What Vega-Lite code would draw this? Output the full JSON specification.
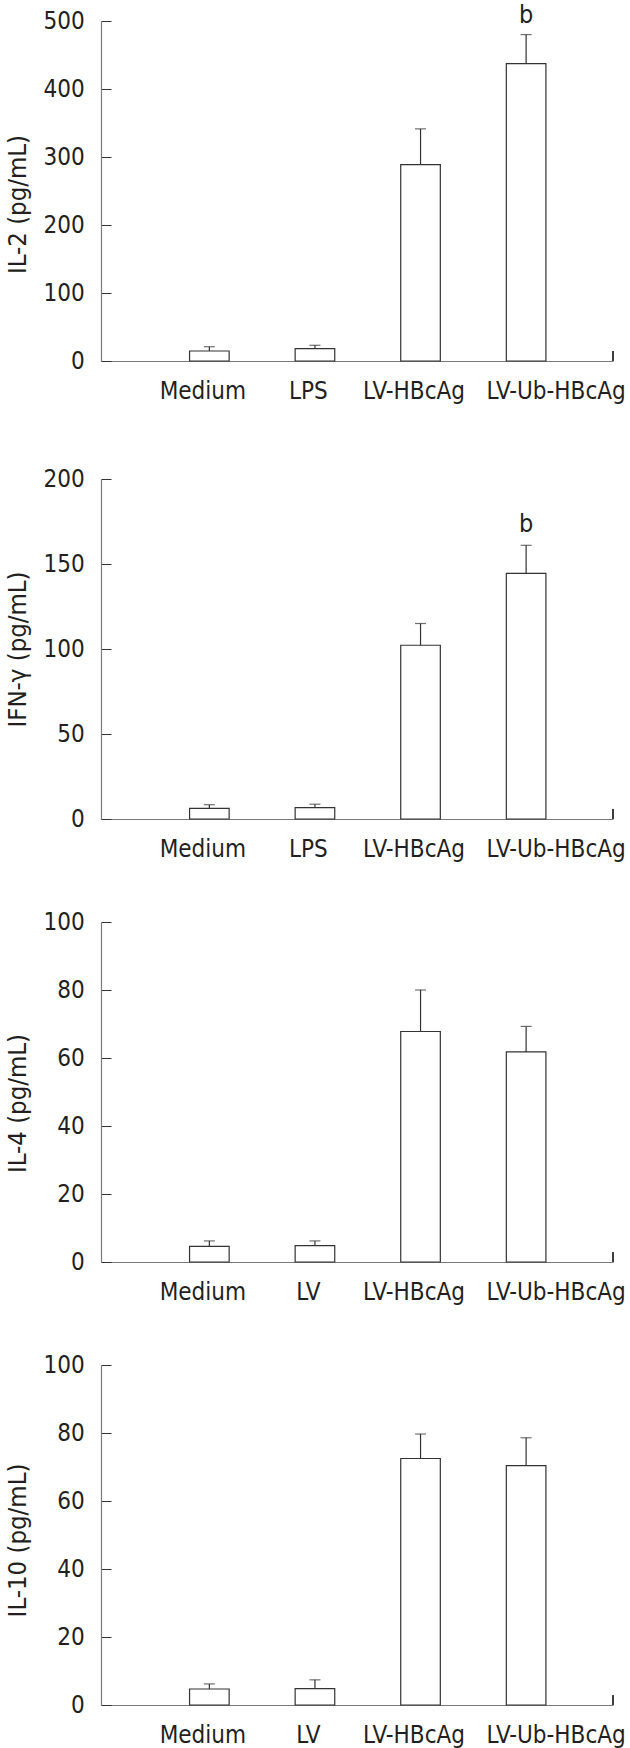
{
  "$schema": "https://vega.github.io/schema/vega-lite/v6.json",
  "background": "white",
  "padding": {"left": 5, "top": 2, "right": 0, "bottom": 0},
  "datasets": {
    "d": [
      {"panel": "IL-2", "group": "Medium", "mean": 14.7, "err": 21.0, "sig": null},
      {"panel": "IL-2", "group": "LPS", "mean": 18.1, "err": 23.1, "sig": null},
      {"panel": "IL-2", "group": "LV-HBcAg", "mean": 288.8, "err": 341.4, "sig": null},
      {"panel": "IL-2", "group": "LV-Ub-HBcAg", "mean": 437.2, "err": 480.0, "sig": "b"},
      {"panel": "IFN", "group": "Medium", "mean": 6.3, "err": 8.4, "sig": null},
      {"panel": "IFN", "group": "LPS", "mean": 6.7, "err": 8.7, "sig": null},
      {"panel": "IFN", "group": "LV-HBcAg", "mean": 102.2, "err": 115.0, "sig": null},
      {"panel": "IFN", "group": "LV-Ub-HBcAg", "mean": 144.5, "err": 161.0, "sig": "b"},
      {"panel": "IL-4", "group": "Medium", "mean": 4.6, "err": 6.2, "sig": null},
      {"panel": "IL-4", "group": "LV", "mean": 4.8, "err": 6.2, "sig": null},
      {"panel": "IL-4", "group": "LV-HBcAg", "mean": 67.8, "err": 80.0, "sig": null},
      {"panel": "IL-4", "group": "LV-Ub-HBcAg", "mean": 61.8, "err": 69.3, "sig": null},
      {"panel": "IL-10", "group": "Medium", "mean": 4.7, "err": 6.2, "sig": null},
      {"panel": "IL-10", "group": "LV", "mean": 4.8, "err": 7.4, "sig": null},
      {"panel": "IL-10", "group": "LV-HBcAg", "mean": 72.5, "err": 79.7, "sig": null},
      {"panel": "IL-10", "group": "LV-Ub-HBcAg", "mean": 70.4, "err": 78.6, "sig": null}
    ]
  },
  "config": {
    "view": {"stroke": null},
    "font": "DejaVu Sans Condensed",
    "concat": {"spacing": 48},
    "axis": {
      "grid": false,
      "labelFont": "DejaVu Sans Condensed",
      "labelFontSize": 24,
      "labelColor": "#231f20",
      "titleFont": "DejaVu Sans Condensed",
      "titleFontSize": 25.5,
      "titleFontWeight": "normal",
      "titleColor": "#231f20",
      "domainColor": "#7a7a7a",
      "domainWidth": 1.2,
      "tickColor": "#333333",
      "tickWidth": 1,
      "tickSize": -10,
      "zindex": 1
    },
    "axisX": {"labelAngle": 0, "labelPadding": 28.5, "labelBaseline": "top",
      "labelOffset": {"condition": {"test": "datum.value === 'LV-Ub-HBcAg'", "value": 30}, "value": -6.5}},
    "axisY": {"labelPadding": 26.7, "titlePadding": 12.5}
  },
  "vconcat": [
    {
      "width": 512, "height": 340,
      "data": {"name": "d"},
      "transform": [{"filter": "datum.panel === 'IL-2'"}],
      "resolve": {"scale": {"x": "independent"}},
      "layer": [
        {
          "encoding": {
            "x": {"field": "group", "type": "nominal", "sort": null, "title": null,
              "scale": {"domain": ["Medium", "LPS", "LV-HBcAg", "LV-Ub-HBcAg"], "paddingInner": 0.625, "paddingOuter": 0.737, "align": 0.569}}
          },
          "layer": [
            {"mark": {"type": "bar", "fill": "white", "stroke": "#333333", "strokeWidth": 1.2},
             "encoding": {"y": {"field": "mean", "type": "quantitative", "title": "IL-2 (pg/mL)", "scale": {"domain": [0, 500], "nice": false},
               "axis": {"values": [0, 100, 200, 300, 400, 500], "titleY": 183}}}},
            {"mark": {"type": "rule", "color": "#333333", "strokeWidth": 1.2},
             "encoding": {"y": {"field": "mean", "type": "quantitative", "title": "IL-2 (pg/mL)"}, "y2": {"field": "err"}}},
            {"mark": {"type": "tick", "color": "#333333", "thickness": 1.2, "size": 11},
             "encoding": {"y": {"field": "err", "type": "quantitative", "title": "IL-2 (pg/mL)"}}},
            {"transform": [{"filter": "datum.sig != null"}],
             "mark": {"type": "text", "fontSize": 25, "baseline": "alphabetic", "dy": -12, "color": "#231f20", "font": "DejaVu Sans Condensed"},
             "encoding": {"y": {"field": "err", "type": "quantitative", "title": "IL-2 (pg/mL)"}, "text": {"field": "sig"}}}
          ]
        },
        {"mark": {"type": "rule", "color": "#333333", "strokeWidth": 1},
         "encoding": {
           "x": {"datum": 1, "type": "quantitative", "scale": {"domain": [0, 1]}, "axis": null},
           "y": {"datum": 0, "type": "quantitative", "title": "IL-2 (pg/mL)"},
           "y2": {"datum": 14.7}}}
      ]
    },
    {
      "width": 512, "height": 340,
      "title": {"text": " ", "fontSize": 10, "offset": 5},
      "data": {"name": "d"},
      "transform": [{"filter": "datum.panel === 'IFN'"}],
      "resolve": {"scale": {"x": "independent"}},
      "layer": [
        {
          "encoding": {
            "x": {"field": "group", "type": "nominal", "sort": null, "title": null,
              "scale": {"domain": ["Medium", "LPS", "LV-HBcAg", "LV-Ub-HBcAg"], "paddingInner": 0.625, "paddingOuter": 0.737, "align": 0.569}}
          },
          "layer": [
            {"mark": {"type": "bar", "fill": "white", "stroke": "#333333", "strokeWidth": 1.2},
             "encoding": {"y": {"field": "mean", "type": "quantitative", "title": "IFN-γ (pg/mL)", "scale": {"domain": [0, 200], "nice": false},
               "axis": {"values": [0, 50, 100, 150, 200], "titleY": 170}}}},
            {"mark": {"type": "rule", "color": "#333333", "strokeWidth": 1.2},
             "encoding": {"y": {"field": "mean", "type": "quantitative", "title": "IFN-γ (pg/mL)"}, "y2": {"field": "err"}}},
            {"mark": {"type": "tick", "color": "#333333", "thickness": 1.2, "size": 11},
             "encoding": {"y": {"field": "err", "type": "quantitative", "title": "IFN-γ (pg/mL)"}}},
            {"transform": [{"filter": "datum.sig != null"}],
             "mark": {"type": "text", "fontSize": 25, "baseline": "alphabetic", "dy": -13, "color": "#231f20", "font": "DejaVu Sans Condensed"},
             "encoding": {"y": {"field": "err", "type": "quantitative", "title": "IFN-γ (pg/mL)"}, "text": {"field": "sig"}}}
          ]
        },
        {"mark": {"type": "rule", "color": "#333333", "strokeWidth": 1},
         "encoding": {
           "x": {"datum": 1, "type": "quantitative", "scale": {"domain": [0, 1]}, "axis": null},
           "y": {"datum": 0, "type": "quantitative", "title": "IFN-γ (pg/mL)"},
           "y2": {"datum": 5.9}}}
      ]
    },
    {
      "width": 512, "height": 340,
      "data": {"name": "d"},
      "transform": [{"filter": "datum.panel === 'IL-4'"}],
      "resolve": {"scale": {"x": "independent"}},
      "layer": [
        {
          "encoding": {
            "x": {"field": "group", "type": "nominal", "sort": null, "title": null,
              "scale": {"domain": ["Medium", "LV", "LV-HBcAg", "LV-Ub-HBcAg"], "paddingInner": 0.625, "paddingOuter": 0.737, "align": 0.569}}
          },
          "layer": [
            {"mark": {"type": "bar", "fill": "white", "stroke": "#333333", "strokeWidth": 1.2},
             "encoding": {"y": {"field": "mean", "type": "quantitative", "title": "IL-4 (pg/mL)", "scale": {"domain": [0, 100], "nice": false},
               "axis": {"values": [0, 20, 40, 60, 80, 100], "titleY": 181}}}},
            {"mark": {"type": "rule", "color": "#333333", "strokeWidth": 1.2},
             "encoding": {"y": {"field": "mean", "type": "quantitative", "title": "IL-4 (pg/mL)"}, "y2": {"field": "err"}}},
            {"mark": {"type": "tick", "color": "#333333", "thickness": 1.2, "size": 11},
             "encoding": {"y": {"field": "err", "type": "quantitative", "title": "IL-4 (pg/mL)"}}}
          ]
        },
        {"mark": {"type": "rule", "color": "#333333", "strokeWidth": 1},
         "encoding": {
           "x": {"datum": 1, "type": "quantitative", "scale": {"domain": [0, 1]}, "axis": null},
           "y": {"datum": 0, "type": "quantitative", "title": "IL-4 (pg/mL)"},
           "y2": {"datum": 2.9}}}
      ]
    },
    {
      "width": 512, "height": 340,
      "data": {"name": "d"},
      "transform": [{"filter": "datum.panel === 'IL-10'"}],
      "resolve": {"scale": {"x": "independent"}},
      "layer": [
        {
          "encoding": {
            "x": {"field": "group", "type": "nominal", "sort": null, "title": null,
              "scale": {"domain": ["Medium", "LV", "LV-HBcAg", "LV-Ub-HBcAg"], "paddingInner": 0.625, "paddingOuter": 0.737, "align": 0.569}}
          },
          "layer": [
            {"mark": {"type": "bar", "fill": "white", "stroke": "#333333", "strokeWidth": 1.2},
             "encoding": {"y": {"field": "mean", "type": "quantitative", "title": "IL-10 (pg/mL)", "scale": {"domain": [0, 100], "nice": false},
               "axis": {"values": [0, 20, 40, 60, 80, 100], "titleY": 175}}}},
            {"mark": {"type": "rule", "color": "#333333", "strokeWidth": 1.2},
             "encoding": {"y": {"field": "mean", "type": "quantitative", "title": "IL-10 (pg/mL)"}, "y2": {"field": "err"}}},
            {"mark": {"type": "tick", "color": "#333333", "thickness": 1.2, "size": 11},
             "encoding": {"y": {"field": "err", "type": "quantitative", "title": "IL-10 (pg/mL)"}}}
          ]
        },
        {"mark": {"type": "rule", "color": "#333333", "strokeWidth": 1},
         "encoding": {
           "x": {"datum": 1, "type": "quantitative", "scale": {"domain": [0, 1]}, "axis": null},
           "y": {"datum": 0, "type": "quantitative", "title": "IL-10 (pg/mL)"},
           "y2": {"datum": 2.9}}}
      ]
    }
  ]
}
